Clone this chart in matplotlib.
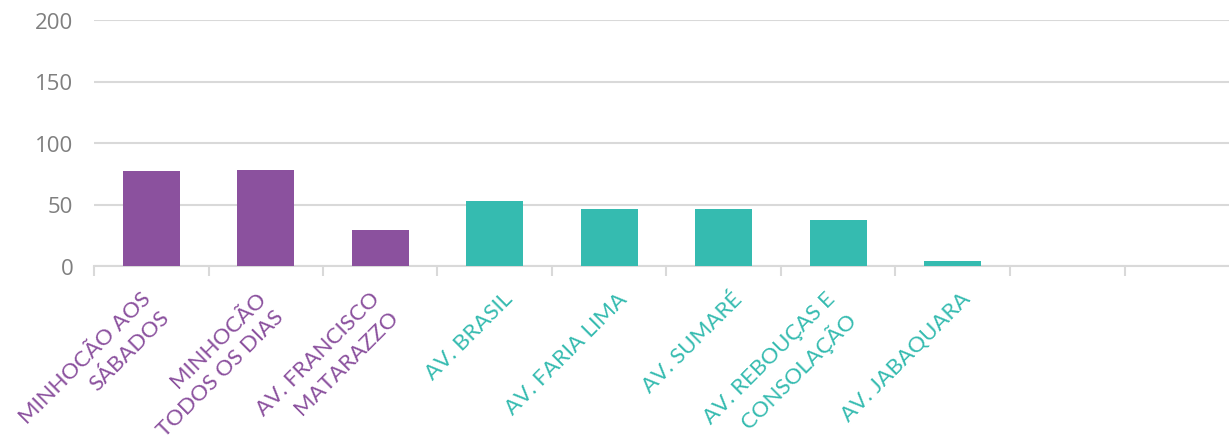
import numpy as np
import matplotlib.pyplot as plt
import matplotlib.transforms as mtransforms

# --- Data ---
categories = [
    'MINHOCÃO AOS\nSÁBADOS',
    'MINHOCÃO\nTODOS OS DIAS',
    'AV. FRANCISCO\nMATARAZZO',
    'AV. BRASIL',
    'AV. FARIA LIMA',
    'AV. SUMARÉ',
    'AV. REBOUÇAS E\nCONSOLAÇÃO',
    'AV. JABAQUARA',
]
values = [77, 78, 29, 53, 46, 46, 37, 4]
groups = ['minhocao', 'minhocao', 'minhocao', 'av', 'av', 'av', 'av', 'av']
n_slots = 10  # chart keeps two empty category slots on the right

purple = '#8B519E'
teal = '#35BBB0'
group_colors = {'minhocao': purple, 'av': teal}

# --- Plotting ---
fig = plt.figure(figsize=(12.29, 4.39), dpi=100)
ax = fig.add_axes([94 / 1229, 172 / 439, 1145 / 1229, 246 / 439])

x = np.arange(len(categories))
colors = [group_colors[g] for g in groups]
ax.bar(x, values, width=0.5, color=colors, zorder=3)

ax.set_ylim(0, 200)
ax.set_yticks([0, 50, 100, 150, 200])
ax.set_xlim(-0.5, n_slots - 0.5)
ax.grid(axis='y', color='#D9D9D9', linewidth=1.5, zorder=0)

for side in ['top', 'right', 'left']:
    ax.spines[side].set_visible(False)
ax.spines['bottom'].set_color('#D9D9D9')
ax.spines['bottom'].set_linewidth(1.5)

ax.tick_params(axis='y', length=0, pad=15, labelsize=16, labelcolor='#7F7F7F')
for lbl in ax.get_yticklabels():
    lbl.set_fontfamily('Open Sans')

# boundary ticks between categories
ax.set_xticks(np.arange(n_slots + 1) - 0.5, minor=True)
ax.tick_params(axis='x', which='minor', length=7, width=1.5, color='#D9D9D9')
ax.set_xticks(x)
ax.set_xticklabels(categories)
ax.tick_params(axis='x', which='major', length=0, pad=0)

# rotated box: right edge a bit past the bar centre, top just under the axis
offset = mtransforms.ScaledTranslation(22 / 100, -22 / 100, fig.dpi_scale_trans)
for lbl, c in zip(ax.get_xticklabels(), colors):
    lbl.set_rotation(45)
    lbl.set_rotation_mode('default')
    lbl.set_ha('right')
    lbl.set_va('top')
    lbl.set_multialignment('right')
    lbl.set_color(c)
    lbl.set_fontsize(16)
    lbl.set_fontfamily('Lato')
    lbl.set_fontweight('normal')
    lbl.set_linespacing(1.35)
    lbl.set_transform(lbl.get_transform() + offset)

fig.savefig('out.png', dpi=100)
